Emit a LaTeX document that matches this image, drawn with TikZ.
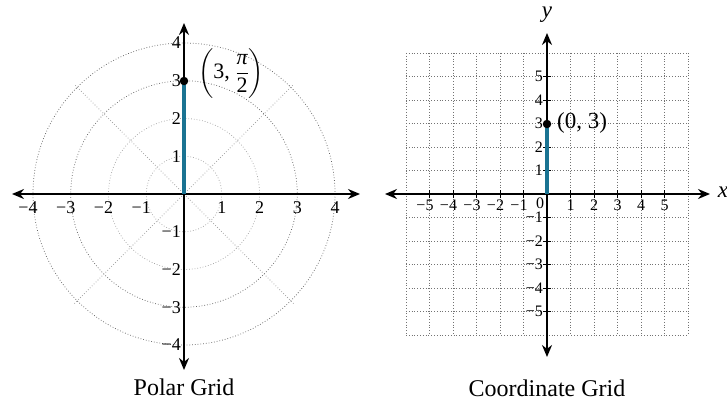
\documentclass[tikz,border=0pt]{standalone}
\usepackage{amsmath}
\usepackage{fontspec}
\setmainfont{Liberation Serif}
\usetikzlibrary{arrows.meta,calc}
\definecolor{segblue}{HTML}{1A7392}
\tikzset{
  ax/.style={line width=1.7pt,{Stealth[length=12pt,width=10pt]}-{Stealth[length=12pt,width=10pt]}},
  ringdark/.style={black!60,dotted,line width=0.75pt},
  ringlight/.style={black!35,dotted,line width=0.75pt},
  gridln/.style={black!55,dotted,line width=0.8pt},
  segline/.style={segblue,line width=3.2pt},
  dotpt/.style={circle,fill=black,inner sep=0pt,minimum size=8.5pt},
  plbl/.style={font=\fontsize{18}{18}\selectfont,inner sep=1pt},
  clbl/.style={font=\fontsize{16}{16}\selectfont,inner sep=1pt},
  captext/.style={font=\fontsize{24}{24}\selectfont,anchor=base},
  bigtext/.style={font=\fontsize{23}{23}\selectfont},
}
\begin{document}
\begin{tikzpicture}[x=1pt,y=-1pt]
\useasboundingbox (0,0) rectangle (727,404);
% ---------- Polar grid ----------
\coordinate (PO) at (184,194);
\def\pu{37.75}
\draw[ringlight] (PO) circle[radius=\pu];
\draw[ringlight] (PO) circle[radius=2*\pu];
\draw[ringdark] (PO) circle[radius=3*\pu];
\draw[ringdark] (PO) circle[radius=4*\pu];
\path (PO) ++(45:155) coordinate (d1) (PO) ++(225:155) coordinate (d2)
      (PO) ++(135:155) coordinate (d3) (PO) ++(315:155) coordinate (d4);
\draw[ringlight] (d1) -- (d2);
\draw[ringlight] (d3) -- (d4);
\coordinate (PL) at (12,194); \coordinate (PR) at (360,194);
\coordinate (PT) at (184,23); \coordinate (PB) at (184,370);
\draw[ax] (PL) -- (PR);
\draw[ax] (PT) -- (PB);
\foreach \i/\t in {1/1,2/2,3/3,4/4}{
  \node[plbl,anchor=north] at ($(PO)+(\i*\pu,6)$) {\t};
  \node[plbl,anchor=north] at ($(PO)+(-\i*\pu,6)$) {\llap{−}\t};
  \node[plbl,anchor=east] at ($(PO)+(-2,-\i*\pu)$) {\t};
  \node[plbl,anchor=east] at ($(PO)+(-2,\i*\pu)$) {\llap{−}\t};
}
\coordinate (P3) at (184,81);
\draw[segline] (PO) -- (P3);
\node[dotpt] (pdot) at (P3) {};
\node[font=\fontsize{22}{22}\selectfont,anchor=west,inner sep=0pt] (plab) at (198,73.5)
  {$\left(\vrule height 29pt depth 18pt width 0pt\text{3, }\dfrac{\text{\itshape π}}{\text{2}}\right)$};
\node[captext] (pcap) at (184,395) {Polar Grid};
% ---------- Coordinate grid ----------
\coordinate (CO) at (547,194);
\def\cu{23.5}
\foreach \i in {-6,...,6}{
  \draw[gridln] ($(CO)+(\i*\cu,-6*\cu)$) -- ($(CO)+(\i*\cu,6*\cu)$);
  \draw[gridln] ($(CO)+(-6*\cu,\i*\cu)$) -- ($(CO)+(6*\cu,\i*\cu)$);
}
\coordinate (CL) at (385,194); \coordinate (CR) at (710,194);
\coordinate (CT) at (547,33); \coordinate (CB) at (547,357);
\draw[ax] (CL) -- (CR);
\draw[ax] (CT) -- (CB);
\foreach \i in {1,...,5}{
  \draw[line width=0.9pt] ($(CO)+(\i*\cu,-4)$) -- ($(CO)+(\i*\cu,4)$);
  \draw[line width=0.9pt] ($(CO)+(-\i*\cu,-4)$) -- ($(CO)+(-\i*\cu,4)$);
  \draw[line width=0.9pt] ($(CO)+(-4,\i*\cu)$) -- ($(CO)+(4,\i*\cu)$);
  \draw[line width=0.9pt] ($(CO)+(-4,-\i*\cu)$) -- ($(CO)+(4,-\i*\cu)$);
  \node[clbl,anchor=north] at ($(CO)+(\i*\cu,5)$) {\i};
  \node[clbl,anchor=north] at ($(CO)+(-\i*\cu,5)$) {\llap{−}\i};
  \node[clbl,anchor=east] at ($(CO)+(-3,-\i*\cu)$) {\i};
  \node[clbl,anchor=east] at ($(CO)+(-3,\i*\cu)$) {\llap{−}\i};
}
\node[clbl] (zero) at (540,203) {0};
\coordinate (C3) at (547,124);
\draw[segline] (CO) -- (C3);
\node[dotpt] (cdot) at (C3) {};
\node[bigtext,anchor=west,inner sep=0pt] (clab) at (557,123) {(0, 3)};
\node[bigtext] (xl) at (723,192) {\itshape x};
\node[bigtext] (yl) at (547,15) {\itshape y};
\node[captext] (ccap) at (547,396) {Coordinate Grid};
\end{tikzpicture}
\end{document}
